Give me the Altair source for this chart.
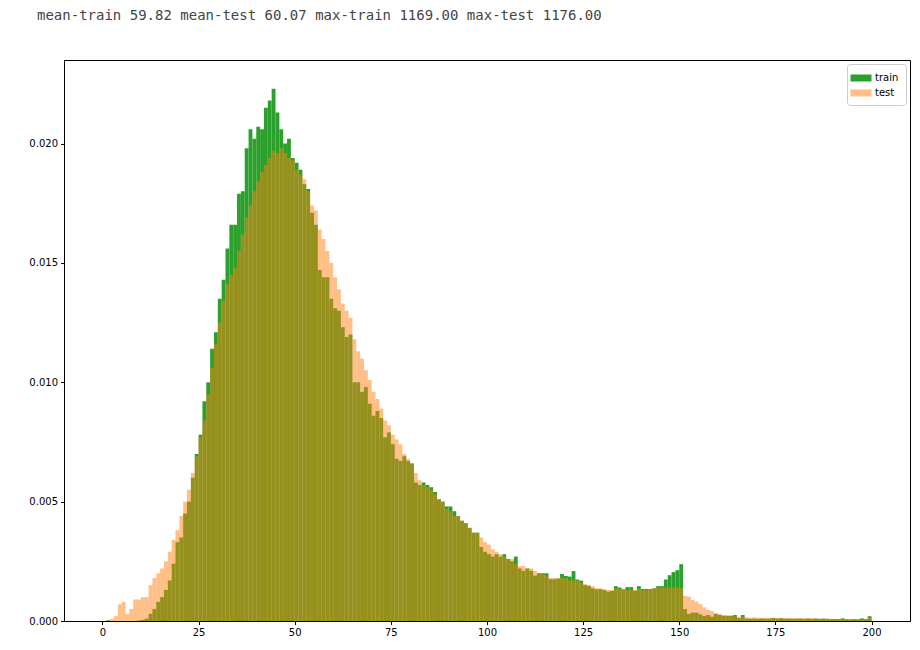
import altair as alt
import pandas as pd

# ---------------- data ----------------
bin_start = list(range(0, 200))

train = [
    0, 0.00003, 0, 0, 0, 0, 0, 0, 0, 0.00002,
    0.00005, 0.0001, 0.0003, 0.0005, 0.0008, 0.0010, 0.0013, 0.0017, 0.0024, 0.0033,
    0.0035, 0.0045, 0.0050, 0.0060, 0.0070, 0.0078, 0.0092, 0.0100, 0.0114, 0.0121,
    0.0135, 0.0143, 0.0156, 0.0166, 0.0166, 0.0179, 0.0180, 0.0198, 0.0206, 0.0202,
    0.0207, 0.0206, 0.0215, 0.0218, 0.0223, 0.0213, 0.0206, 0.0200, 0.0202, 0.0194,
    0.0192, 0.0189, 0.0183, 0.0181, 0.0171, 0.0166, 0.0147, 0.0144, 0.0144, 0.0135,
    0.0131, 0.0130, 0.0123, 0.0119, 0.0120, 0.0100, 0.0100, 0.0096, 0.0098, 0.0091,
    0.0086, 0.0088, 0.0085, 0.0077, 0.0079, 0.0074, 0.0068, 0.0067, 0.0069, 0.0067,
    0.0066, 0.0058, 0.0057, 0.0058, 0.0057, 0.0056, 0.0054, 0.0051, 0.0050, 0.0048,
    0.0048, 0.0046, 0.0044, 0.0042, 0.0041, 0.0039, 0.0037, 0.0037, 0.0031, 0.0029,
    0.0028, 0.0027, 0.0028, 0.0027, 0.0028, 0.0026, 0.0025, 0.0027, 0.0022, 0.0021,
    0.0022, 0.0021, 0.0019, 0.0020, 0.0020, 0.0020, 0.00175, 0.00175, 0.00178, 0.00197,
    0.00189, 0.00186, 0.00209, 0.00174, 0.00169, 0.0015, 0.00147, 0.00137, 0.00133, 0.00133,
    0.0013, 0.00123, 0.00126, 0.00146, 0.0014, 0.00133, 0.00142, 0.00142, 0.00127, 0.00146,
    0.00134, 0.00134, 0.00134, 0.00137, 0.00146, 0.00146, 0.00174, 0.00192, 0.00205, 0.00213,
    0.00238, 0.0005, 0.0003, 0.00035, 0.00035, 0.00028, 0.00021, 0.00025, 0.00018, 0.0003,
    0.00025, 0.00022, 0.00022, 0.00022, 0.00025, 0.00012, 0.00025, 0.0001, 0.00009, 0.0001,
    0.00009, 0.0001, 0.00009, 0.0001, 0.00013, 0.0001, 0.00012, 0.00009, 0.0001, 0.00009,
    0.0001, 0.0001, 0.00009, 0.0001, 0.00009, 0.0001, 0.00009, 0.0001, 0.00009, 0.00008,
    0.00008, 0.00008, 0.00011, 0.00008, 0.00007, 0.00008, 0.00007, 0.00011, 0.00008, 0.0002,
]

test = [
    0, 0, 0.0001, 0.0002, 0.0007, 0.0008, 0.0003, 0.0005, 0.0009, 0.0009,
    0.0010, 0.0010, 0.0015, 0.0018, 0.0020, 0.0022, 0.0025, 0.0029, 0.0034, 0.0038,
    0.0044, 0.0050, 0.0055, 0.0062, 0.0069, 0.0077, 0.0084, 0.0095, 0.0106, 0.0116,
    0.0125, 0.0134, 0.0141, 0.0145, 0.0148, 0.0155, 0.0162, 0.0169, 0.0174, 0.0180,
    0.0184, 0.0188, 0.0191, 0.0194, 0.0197, 0.0196, 0.0198, 0.0196, 0.0194, 0.0193,
    0.0189, 0.0187, 0.0185, 0.0180, 0.0174, 0.0172, 0.0164, 0.0160, 0.0155, 0.0150,
    0.0144, 0.0139, 0.0133, 0.0130, 0.0127, 0.0118, 0.0113, 0.0110, 0.0105, 0.0101,
    0.0096, 0.0093, 0.0089, 0.0084, 0.0082, 0.0078, 0.0076, 0.0074, 0.0070, 0.0068,
    0.0066, 0.0062, 0.0059, 0.0057, 0.0056, 0.0055, 0.0053, 0.0051, 0.0050, 0.0047,
    0.0046, 0.0044, 0.0044, 0.0042, 0.0041, 0.0039, 0.0037, 0.0037, 0.0035, 0.0033,
    0.0032, 0.0030, 0.0029, 0.0028, 0.0027, 0.0026, 0.0026, 0.0024, 0.0023, 0.0023,
    0.0022, 0.0022, 0.0021, 0.0020, 0.0020, 0.0019, 0.0018, 0.0018, 0.0018, 0.0018,
    0.0018, 0.0017, 0.0017, 0.0017, 0.0016, 0.00155, 0.0015, 0.00146, 0.00137, 0.00137,
    0.00133, 0.0013, 0.0013, 0.00137, 0.00133, 0.00133, 0.0013, 0.0013, 0.0013, 0.00134,
    0.0013, 0.0013, 0.00133, 0.00136, 0.0014, 0.0014, 0.0014, 0.0014, 0.0014, 0.0014,
    0.0014, 0.00105, 0.00102, 0.00088, 0.00081, 0.00071, 0.00057, 0.00046, 0.00042, 0.00032,
    0.0003, 0.00025, 0.00022, 0.00022, 0.0002, 0.00018, 0.00018, 0.00015, 0.00014, 0.00015,
    0.00014, 0.00013, 0.00014, 0.00013, 0.00012, 0.00013, 0.00012, 0.00013, 0.00012, 0.00012,
    0.00011, 0.00012, 0.00011, 0.00012, 0.00011, 0.00011, 0.0001, 0.0001, 0.00009, 0.00009,
    0.00009, 0.00008, 0.00008, 0.00008, 0.00008, 0.00008, 0.00008, 0.00008, 0.00008, 0.00016,
]

series_names = ["train", "test"]
series_colors = ["#2ca02c", "#ff7f0e"]
series_opacity = [1.0, 0.5]
x_ticks = [0, 25, 50, 75, 100, 125, 150, 175, 200]
y_ticks = [0.0, 0.005, 0.010, 0.015, 0.020]
title_text = "mean-train 59.82 mean-test 60.07 max-train 1169.00 max-test 1176.00"

# ---------------- table ----------------
rows = []
for name, vals in (("train", train), ("test", test)):
    for s, v in zip(bin_start, vals):
        rows.append({"series": name, "start": s, "end": s + 1, "density": v})
df = pd.DataFrame(rows)

legend = alt.Legend(
    title=None,
    orient="top-right",
    offset=4,
    strokeColor="#cccccc",
    fillColor="white",
    padding=7,
    cornerRadius=3,
    symbolType="M-1.5,-0.5H1.5V0.5H-1.5Z",
    symbolSize=196,
    symbolStrokeWidth=0,
    labelFont="DejaVu Sans",
    labelFontSize=10,
    labelColor="black",
    labelOffset=7,
    rowPadding=3,
)

chart = (
    alt.Chart(df)
    .mark_rect(strokeWidth=0)
    .encode(
        x=alt.X(
            "start:Q",
            scale=alt.Scale(domain=[-10, 210], nice=False, zero=False),
            axis=alt.Axis(values=x_ticks, title=None, format="d"),
        ),
        x2="end:Q",
        y=alt.Y(
            "density:Q",
            scale=alt.Scale(domain=[0, 0.0235], nice=False),
            axis=alt.Axis(values=y_ticks, format=".3f", title=None),
        ),
        y2=alt.datum(0),
        color=alt.Color(
            "series:N",
            scale=alt.Scale(domain=series_names, range=series_colors),
            legend=legend,
        ),
        opacity=alt.Opacity(
            "series:N",
            scale=alt.Scale(domain=series_names, range=series_opacity),
            legend=legend,
        ),
    )
    .properties(
        width=846,
        height=561,
        padding={"left": 56, "top": 52, "right": 2, "bottom": 20},
        autosize=alt.AutoSizeParams(type="none"),
        title=alt.Title(
            title_text,
            anchor="start",
            frame="group",
            font="DejaVu Sans Mono",
            fontSize=14,
            fontWeight="normal",
            color="#444444",
            baseline="alphabetic",
            offset=26,
            dx=-27,
        ),
    )
    .configure_view(stroke="black", strokeWidth=1)
    .configure_axis(
        grid=False,
        domainColor="black",
        domainWidth=1,
        tickColor="black",
        tickSize=3.5,
        tickWidth=1,
        labelFont="DejaVu Sans",
        labelFontSize=10,
        labelColor="black",
        labelPadding=3,
    )
)

chart.save("out.html", embed_options={"renderer": "svg", "actions": False})
